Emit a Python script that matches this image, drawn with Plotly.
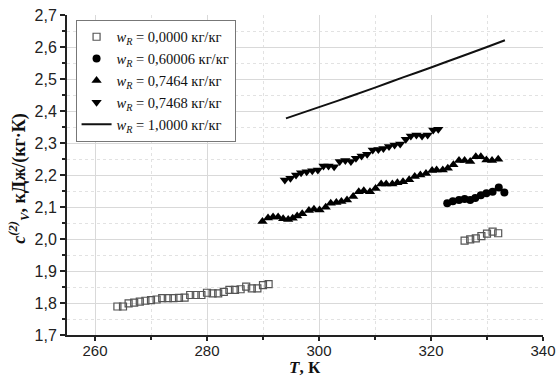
import plotly.graph_objects as go

# w_R = 0,0000 kg/kg (two measured runs)
T_w0 = [264, 265, 266, 267, 268, 269, 270, 271, 272, 273, 274, 275, 276, 277,
        278, 279, 280, 281, 282, 283, 284, 285, 286, 287, 288, 289, 290, 291,
        326, 327, 328, 329, 330, 331, 332]
c_w0 = [1.789, 1.789, 1.799, 1.801, 1.804, 1.807, 1.809, 1.811, 1.815, 1.815,
        1.815, 1.816, 1.817, 1.825, 1.825, 1.825, 1.832, 1.830, 1.830, 1.835,
        1.841, 1.841, 1.843, 1.851, 1.846, 1.846, 1.856, 1.859,
        1.995, 1.999, 2.002, 2.009, 2.017, 2.023, 2.018]

# w_R = 0,60006 kg/kg
T_w1 = [322.9, 323.9, 325.0, 326.0, 327.0, 327.9, 328.9, 329.9, 331.0, 332.1, 333.1]
c_w1 = [2.112, 2.118, 2.122, 2.125, 2.122, 2.128, 2.137, 2.143, 2.148, 2.161, 2.145]

# w_R = 0,7464 kg/kg
T_w2 = [289.9, 290.9, 291.8, 292.7, 293.6, 294.5, 295.3, 296.1, 297.0, 298.2,
        299.1, 300.1, 301.2, 302.1, 303.1, 304.0, 305.0, 306.1, 307.1, 308.0,
        309.1, 310.1, 311.1, 312.0, 313.1, 314.0, 315.0, 316.1, 317.1, 318.1,
        319.1, 320.2, 321.0, 322.1, 323.0, 324.0, 325.0, 326.0, 327.0, 328.0,
        328.9, 329.9, 330.9, 332.0]
c_w2 = [2.055, 2.066, 2.069, 2.069, 2.063, 2.061, 2.065, 2.072, 2.079, 2.089,
        2.093, 2.091, 2.099, 2.112, 2.114, 2.117, 2.122, 2.133, 2.148, 2.151,
        2.148, 2.158, 2.172, 2.172, 2.172, 2.176, 2.179, 2.185, 2.195, 2.200,
        2.205, 2.214, 2.216, 2.216, 2.221, 2.232, 2.245, 2.245, 2.242, 2.257,
        2.257, 2.247, 2.245, 2.249]

# w_R = 0,7468 kg/kg
T_w3 = [293.9, 294.9, 295.9, 296.8, 297.8, 298.8, 299.8, 300.8, 301.7, 302.7,
        303.7, 304.7, 305.7, 306.6, 307.6, 308.6, 309.6, 310.6, 311.5, 312.5,
        313.5, 314.5, 315.5, 316.4, 317.4, 318.4, 319.4, 320.4, 321.3]
c_w3 = [2.184, 2.190, 2.200, 2.207, 2.210, 2.213, 2.216, 2.228, 2.228, 2.226,
        2.242, 2.245, 2.242, 2.252, 2.259, 2.265, 2.278, 2.280, 2.283, 2.289,
        2.294, 2.297, 2.312, 2.322, 2.325, 2.322, 2.325, 2.341, 2.343]

# w_R = 1,0000 kg/kg (smooth curve)
T_w4 = [294.1, 300, 305, 310, 315, 320, 325, 330, 333.2]
c_w4 = [2.377, 2.412, 2.442, 2.473, 2.505, 2.536, 2.568, 2.600, 2.621]

legend_names = [
    "<i>w</i><sub><i>R</i></sub> = 0,0000 кг/кг",
    "<i>w</i><sub><i>R</i></sub> = 0,60006 кг/кг",
    "<i>w</i><sub><i>R</i></sub> = 0,7464 кг/кг",
    "<i>w</i><sub><i>R</i></sub> = 0,7468 кг/кг",
    "<i>w</i><sub><i>R</i></sub> = 1,0000 кг/кг",
]

x_ticks = [260, 280, 300, 320, 340]
y_ticks = [1.7, 1.8, 1.9, 2.0, 2.1, 2.2, 2.3, 2.4, 2.5, 2.6, 2.7]

x_title = "<b><i>T</i>, К</b>"
y_title = "<b><i>c</i><sup><i>(2)</i></sup><sub><i>V</i></sub>, кДж/(кг·К)</b>"

fig = go.Figure()
fig.add_trace(go.Scatter(
    x=T_w0, y=c_w0, mode="markers", name=legend_names[0],
    marker=dict(symbol="square-open", size=7, color="#555555", line=dict(width=1.2)),
))
fig.add_trace(go.Scatter(
    x=T_w1, y=c_w1, mode="markers", name=legend_names[1],
    marker=dict(symbol="circle", size=8, color="#000000"),
))
fig.add_trace(go.Scatter(
    x=T_w2, y=c_w2, mode="markers", name=legend_names[2],
    marker=dict(symbol="triangle-up", size=9, color="#000000"),
))
fig.add_trace(go.Scatter(
    x=T_w3, y=c_w3, mode="markers", name=legend_names[3],
    marker=dict(symbol="triangle-down", size=9, color="#000000"),
))
fig.add_trace(go.Scatter(
    x=T_w4, y=c_w4, mode="lines", name=legend_names[4],
    line=dict(color="#111111", width=2, shape="spline"),
))

x_tick_font = dict(family="Liberation Sans, Arial, sans-serif", size=15, color="#222222")
y_tick_font = dict(family="Liberation Sans, Arial, sans-serif", size=16, color="#222222")
serif = "Liberation Serif, Times New Roman, serif"

fig.update_layout(
    width=558, height=378,
    margin=dict(l=67, r=15, t=15, b=43),
    paper_bgcolor="white", plot_bgcolor="white",
    separators=", ",
    showlegend=True,
    legend=dict(
        x=0.018, y=0.985, xanchor="left", yanchor="top",
        bgcolor="white", bordercolor="#777777", borderwidth=1,
        font=dict(family=serif, size=14.5, color="#111111"),
        tracegroupgap=0,
    ),
    xaxis=dict(
        range=[255, 340], tickvals=x_ticks, ticks="outside", ticklen=4,
        tickwidth=1.5, tickcolor="#222222", automargin=False,
        ticklabelstandoff=-3,
        showline=True, linecolor="#222222", linewidth=2,
        showgrid=True, gridcolor="#d9d9d9", gridwidth=1,
        zeroline=False, tickfont=x_tick_font,
        minor=dict(dtick=10, tick0=260, ticks="outside", ticklen=3,
                   tickcolor="#222222", showgrid=True,
                   gridcolor="#e2e2e2", griddash="dot"),
    ),
    yaxis=dict(
        range=[1.7, 2.7], tickvals=y_ticks, tickformat=".1f",
        ticks="outside", ticklen=5, tickwidth=1.5, tickcolor="#222222",
        automargin=False,
        showline=True, linecolor="#222222", linewidth=2,
        showgrid=True, gridcolor="#d9d9d9", gridwidth=1,
        zeroline=False, tickfont=y_tick_font,
        minor=dict(dtick=0.05, tick0=1.7, ticks="outside", ticklen=3,
                   tickcolor="#222222", showgrid=True,
                   gridcolor="#e2e2e2", griddash="dot"),
    ),
    annotations=[
        dict(text=x_title, xref="paper", yref="paper", x=0.5, y=-0.1,
             xanchor="center", yanchor="middle", showarrow=False, borderpad=0,
             font=dict(family=serif, size=17, color="#111111")),
        dict(text=y_title, xref="paper", yref="paper", x=-0.102, y=0.49,
             xanchor="center", yanchor="middle", showarrow=False, textangle=-90,
             font=dict(family=serif, size=18, color="#111111")),
    ],
)

fig.write_html("out.html")
